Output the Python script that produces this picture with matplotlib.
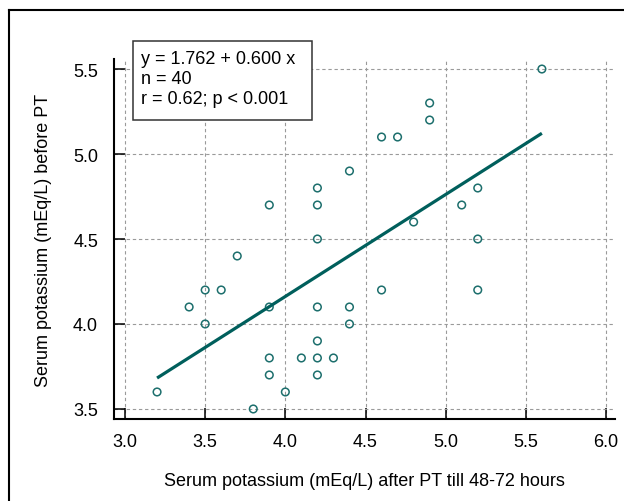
#%%
# scatter of serum potassium before vs after PT, with fitted regression line
import numpy as np
import matplotlib.pyplot as plt
from matplotlib.patches import Rectangle
from matplotlib.lines import Line2D

plt.rcParams['font.family'] = ['Liberation Sans', 'DejaVu Sans']

#%%
# values (overlapping points only drawn once)
k_after = [3.2, 3.4, 3.5, 3.5, 3.6, 3.7, 3.8, 3.9, 3.9, 3.9, 3.9, 4.0,
           4.1, 4.2, 4.2, 4.2, 4.2, 4.2, 4.2, 4.2, 4.3, 4.4, 4.4, 4.4,
           4.6, 4.6, 4.7, 4.8, 4.9, 4.9, 5.1, 5.2, 5.2, 5.2, 5.6]
k_before = [3.6, 4.1, 4.2, 4.0, 4.2, 4.4, 3.5, 4.7, 4.1, 3.8, 3.7, 3.6,
            3.8, 4.8, 4.7, 4.5, 4.1, 3.9, 3.8, 3.7, 3.8, 4.9, 4.1, 4.0,
            5.1, 4.2, 5.1, 4.6, 5.3, 5.2, 4.7, 4.8, 4.5, 4.2, 5.5]
intercept = 1.762
slope = 0.600
stats_lines = ['y = 1.762 + 0.600 x', 'n = 40', 'r = 0.62; p < 0.001']
x_ticks = [3.0, 3.5, 4.0, 4.5, 5.0, 5.5, 6.0]
y_ticks = [3.5, 4.0, 4.5, 5.0, 5.5]

#%%
W, H = 624, 502
fs = 13
fig = plt.figure(figsize=(W / 100, H / 100), dpi=100)
ax = fig.add_axes([114 / W, 1 - 420 / H, (615 - 114) / W, (420 - 60) / H])

teal = '#005f5c'
ax.scatter(k_after, k_before, s=30, facecolors='none', edgecolors='#1d6f6d',
           linewidths=1.1, zorder=3)
fit_x = np.array([min(k_after), max(k_after)])
ax.plot(fit_x, intercept + slope * fit_x, color=teal, lw=2.3, zorder=4,
        solid_capstyle='butt')

ax.set_xlim(2.9314, 6.056)
ax.set_ylim(3.441, 5.559)
ax.set_xticks(x_ticks)
ax.set_yticks(y_ticks)
ax.set_xticklabels([f'{v:.1f}' for v in x_ticks])
ax.set_yticklabels([f'{v:.1f}' for v in y_ticks])
ax.grid(True, color='#9a9a9a', lw=0.8, linestyle=(0, (3, 2.5)))
ax.set_axisbelow(True)

for side in ['top', 'right']:
    ax.spines[side].set_visible(False)
for side in ['left', 'bottom']:
    ax.spines[side].set_linewidth(1.5)
ax.tick_params(direction='in', length=8, width=1.1, labelsize=fs, colors='black')
ax.tick_params(axis='y', pad=11.5)
ax.tick_params(axis='x', pad=10)

ax.set_xlabel('Serum potassium (mEq/L) after PT till 48-72 hours',
              fontsize=fs, labelpad=16)
ax.set_ylabel('Serum potassium (mEq/L) before PT', fontsize=fs, labelpad=15)

#%%
# stats box, sticks out above the plot area
box = Rectangle((133 / W, 1 - 121 / H), (312 - 133) / W, (121 - 42) / H,
                transform=fig.transFigure, facecolor='white',
                edgecolor='#333333', lw=1.1, zorder=10)
fig.patches.append(box)
fig.text(141 / W, 1 - 51 / H, '\n'.join(stats_lines), fontsize=fs,
         va='top', ha='left', linespacing=1.25, zorder=11)

# outer frame (only left and top edges are visible in the original)
fig.add_artist(Line2D([9 / W, 9 / W], [0, 1 - 11 / H], color='black', lw=1.5,
                      transform=fig.transFigure))
fig.add_artist(Line2D([9 / W, 1], [1 - 11 / H, 1 - 11 / H], color='black',
                      lw=1.5, transform=fig.transFigure))

fig.savefig('out.png', dpi=100)
